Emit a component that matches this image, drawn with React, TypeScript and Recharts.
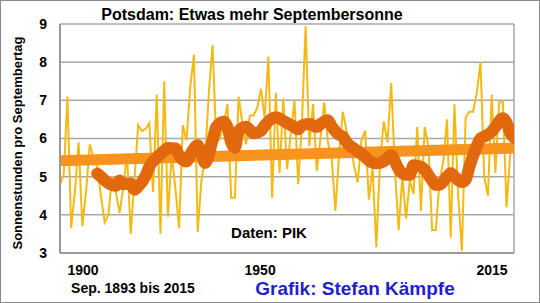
import { LineChart, Line, XAxis, YAxis, CartesianGrid } from 'recharts';

// September sunshine hours per day, Potsdam, 1893..2015
const FIRST_YEAR = 1893;
const sunHours = [
  4.8, 5.05, 7.1, 3.65, 4.6, 5.9, 3.7,
  4.6, 5.85, 5.5, 5.25, 4.5, 3.8, 4.0, 5.0, 4.6, 4.05,
  4.7, 5.6, 3.5, 4.9, 6.35, 6.2, 6.25, 6.4, 4.6, 7.15,
  3.5, 7.5, 3.95, 5.6, 4.7, 3.65, 6.35, 5.95, 7.35, 8.2,
  3.55, 4.9, 5.5, 7.2, 8.45, 5.9, 6.0, 6.4, 6.9, 4.45,
  4.45, 7.1, 6.4, 5.85, 6.6, 6.6, 6.8, 7.3, 6.55, 8.15,
  4.45, 7.2, 5.1, 7.05, 5.2, 6.1, 7.0, 4.8, 6.4, 8.95,
  5.8, 6.9, 5.15, 6.0, 6.95, 5.9, 5.5, 4.1, 5.6, 6.7,
  6.2, 5.9, 5.3, 4.85, 5.95, 6.2, 4.4, 5.25, 3.15, 5.4,
  6.45, 5.9, 7.45, 5.2, 3.6, 5.0, 3.9, 4.9, 4.55, 6.3,
  4.1, 6.3, 5.8, 3.6, 3.6, 4.9, 5.4, 6.5, 3.4, 6.9,
  4.5, 3.05, 6.55, 6.7, 6.7, 7.2, 8.0, 5.0, 4.5, 7.15,
  5.1, 6.95, 6.95, 4.2, 5.6, 6.05,
];

// smoothed curve (thick dark orange), read at these years
const maYears = [
  1903, 1904, 1906, 1908, 1909, 1910, 1912, 1913, 1914, 1916, 1917, 1919, 1921, 1922,
  1924, 1925, 1927, 1928, 1930, 1931, 1932, 1934, 1935, 1937, 1938, 1939, 1940, 1941,
  1943, 1945, 1947, 1948, 1951, 1953, 1956, 1957, 1958, 1960, 1962, 1963, 1965, 1966,
  1968, 1969, 1970, 1972, 1973, 1975, 1976, 1978, 1980, 1982, 1983, 1984, 1986, 1987,
  1988, 1990, 1991, 1993, 1994, 1995, 1997, 1998, 1999, 2001, 2002, 2003, 2005, 2006,
  2007, 2009, 2010, 2012, 2013, 2014, 2015,
];
const maValues = [
  5.08, 5.0, 4.83, 4.76, 4.9, 4.8, 4.82, 4.66, 4.74, 5.02, 5.26, 5.5, 5.68, 5.75,
  5.74, 5.55, 5.4, 5.58, 5.82, 5.6, 5.36, 5.96, 6.3, 6.44, 6.3, 5.9, 5.76, 6.2,
  6.31, 6.14, 6.2, 6.34, 6.56, 6.46, 6.3, 6.24, 6.34, 6.38, 6.3, 6.38, 6.48, 6.32,
  6.1, 6.05, 5.9, 5.74, 5.66, 5.52, 5.42, 5.35, 5.4, 5.56, 5.4, 5.2, 5.05, 5.05,
  5.3, 5.26, 5.18, 4.9, 4.79, 4.79, 5.0, 5.09, 5.0, 4.86, 4.92, 5.25, 5.8, 6.0,
  6.05, 6.18, 6.3, 6.53, 6.42, 6.15, 6.02,
];

// linear trend (light orange band)
const trendYears = [1893, 2015];
const trendValues = [5.42, 5.75];

const yTicks = [3, 4, 5, 6, 7, 8, 9];
const xTicks = [1900, 1950, 2015];
// the year labels in the original sit a bit left of their years
const xLabelShift: Record<number, number> = { 1900: -3, 1950: -12, 2015: -22 };

const yearly = sunHours.map((v, i) => ({ year: FIRST_YEAR + i, v }));
const smooth = maYears.map((year, i) => ({ year, v: maValues[i] }));
const trend = trendYears.map((year, i) => ({ year, v: trendValues[i] }));

const FONT = "'Liberation Sans', Arial, sans-serif";

function YearTick(props: any) {
  const { x, payload } = props;
  return (
    <text
      x={x + (xLabelShift[payload.value] ?? 0)}
      y={274}
      textAnchor="middle"
      fontFamily={FONT}
      fontWeight="bold"
      fontSize={14}
      fill="#000"
    >
      {payload.value}
    </text>
  );
}

export default function App() {
  return (
    <div
      style={{
        position: 'absolute',
        left: 0,
        top: 0,
        width: 540,
        height: 303,
        background: '#fff',
        boxSizing: 'border-box',
        border: '1px solid #8a8a8a',
      }}
    >
      <LineChart
        width={538}
        height={301}
        margin={{ top: 23, right: 25, bottom: 29, left: 0 }}
        style={{ position: 'absolute', left: 0, top: 0 }}
      >
        <CartesianGrid
          stroke="#a8a8a8"
          strokeWidth={1.5}
          horizontal
          vertical
          verticalPoints={[59, 513]}
        />
        <XAxis
          type="number"
          dataKey="year"
          domain={[FIRST_YEAR, 2015]}
          ticks={xTicks}
          interval={0}
          height={20}
          allowDataOverflow
          axisLine={{ stroke: '#999', strokeWidth: 2 }}
          tickLine={false}
          tickSize={0}
          tick={<YearTick />}
        />
        <YAxis
          type="number"
          domain={[3, 9]}
          ticks={yTicks}
          interval={0}
          width={59}
          axisLine={{ stroke: '#999', strokeWidth: 2 }}
          tickLine={false}
          tickSize={0}
          tickMargin={13}
          tick={{ fontFamily: FONT, fontWeight: 'bold', fontSize: 14, fill: '#000' }}
        />
        <Line
          data={yearly}
          dataKey="v"
          type="linear"
          stroke="#f6b914"
          strokeWidth={2}
          dot={false}
          isAnimationActive={false}
        />
        <Line
          data={trend}
          dataKey="v"
          type="linear"
          stroke="#f7941d"
          strokeWidth={11}
          dot={false}
          isAnimationActive={false}
        />
        <Line
          data={smooth}
          dataKey="v"
          type="monotone"
          stroke="#e2680d"
          strokeWidth={12}
          strokeLinecap="round"
          strokeLinejoin="round"
          dot={false}
          isAnimationActive={false}
        />
      </LineChart>
      <svg
        width={538}
        height={301}
        style={{ position: 'absolute', left: 0, top: 0, pointerEvents: 'none' }}
      >
        <text x={251} y={19} textAnchor="middle" fontFamily={FONT} fontWeight="bold" fontSize={16} fill="#000">
          Potsdam: Etwas mehr Septembersonne
        </text>
        <text
          x={0}
          y={0}
          transform="translate(21,142) rotate(-90)"
          textAnchor="middle"
          fontFamily={FONT}
          fontWeight="bold"
          fontSize={13}
          fill="#000"
        >
          Sonnenstunden pro Septembertag
        </text>
        <text x={268} y={237} textAnchor="middle" fontFamily={FONT} fontWeight="bold" fontSize={15} fill="#000">
          Daten: PIK
        </text>
        <text x={132} y={292} textAnchor="middle" fontFamily={FONT} fontWeight="bold" fontSize={14} fill="#000">
          Sep. 1893 bis 2015
        </text>
        <text x={354} y={294} textAnchor="middle" fontFamily={FONT} fontWeight="bold" fontSize={19} fill="#1f1fcc">
          Grafik: Stefan Kämpfe
        </text>
      </svg>
    </div>
  );
}
